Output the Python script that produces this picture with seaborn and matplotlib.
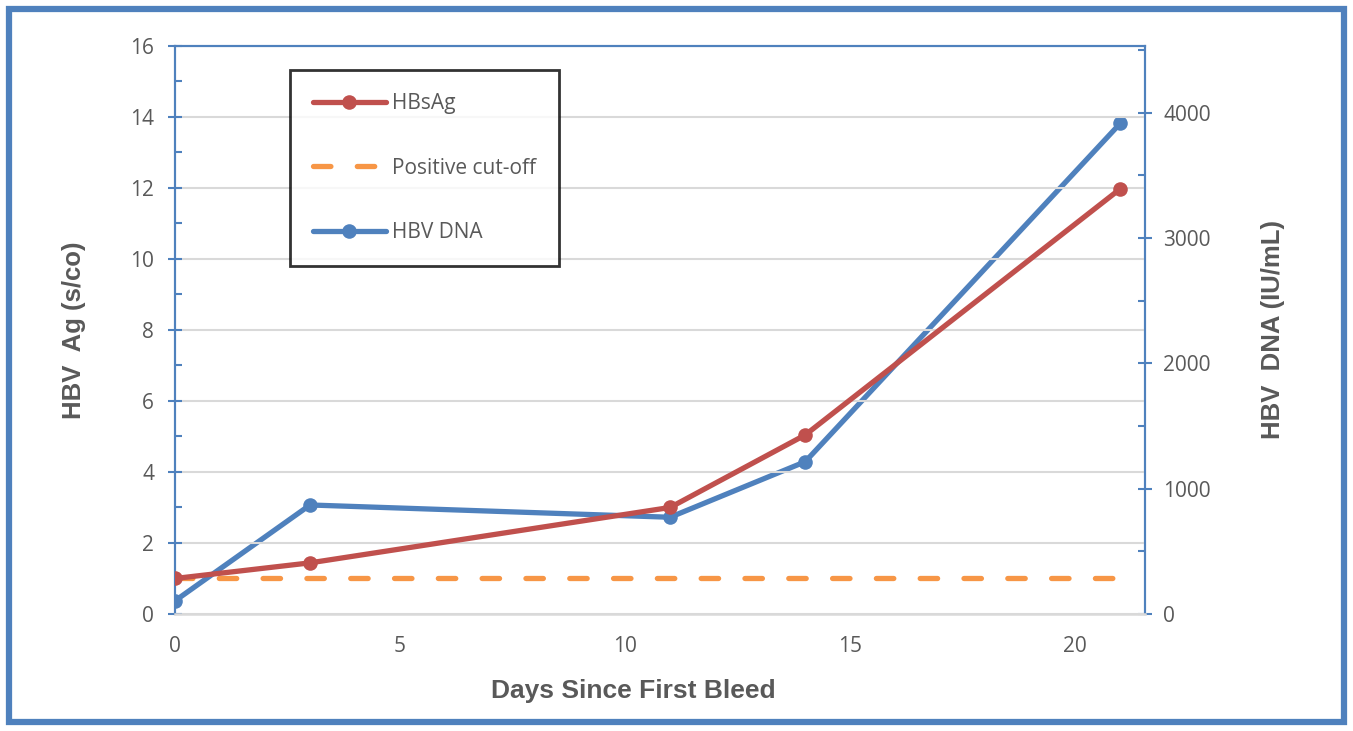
import seaborn as sns
import pandas as pd
import matplotlib.pyplot as plt
from matplotlib.lines import Line2D
from matplotlib.patches import Rectangle
from matplotlib.ticker import MultipleLocator

# data
days = [0, 3, 11, 14, 21]
hbsag = [1.0, 1.44, 3.0, 5.04, 11.97]
cutoff = [1, 1, 1, 1, 1]
hbv_dna = [105, 870, 772, 1215, 3915]

red = '#C0504D'
orange = '#F79646'
blue = '#4F81BD'
txt = '#595959'
gridc = '#D9D9D9'

sns.set_style("white")
plt.rcParams['font.family'] = ['Open Sans', 'DejaVu Sans']

df = pd.DataFrame({'days': days, 'hbsag': hbsag, 'cutoff': cutoff, 'dna': hbv_dna})

fig = plt.figure(figsize=(13.53, 7.31), dpi=100)
ax = fig.add_axes([175/1353, 117/731, 970/1353, 568.3/731])
ax2 = ax.twinx()

lw = 3.8
ms = 10.5
sns.lineplot(data=df, x='days', y='cutoff', ax=ax, color=orange, linewidth=lw,
             dashes=False, zorder=3)
ax.lines[-1].set_dashes((3.3, 5.0))
ax.lines[-1].set_dash_capstyle('round')
sns.lineplot(data=df, x='days', y='hbsag', ax=ax, color=red, linewidth=lw,
             marker='o', markersize=ms, markeredgewidth=0, zorder=4)
sns.lineplot(data=df, x='days', y='dna', ax=ax2, color=blue, linewidth=lw,
             marker='o', markersize=ms, markeredgewidth=0, zorder=4)
for l in ax.lines + ax2.lines:
    l.set_solid_capstyle('round')
    l.set_solid_joinstyle('round')

ax.set_xlim(0, 21.55)
ax.set_ylim(0, 16)
ax2.set_ylim(0, 4535)
ax.set_zorder(ax2.get_zorder() + 1)
ax.patch.set_visible(False)

ax.xaxis.set_major_locator(MultipleLocator(5))
ax.xaxis.set_minor_locator(MultipleLocator(1))
ax.yaxis.set_major_locator(MultipleLocator(2))
ax.yaxis.set_minor_locator(MultipleLocator(1))
ax2.yaxis.set_major_locator(MultipleLocator(1000))
ax2.yaxis.set_minor_locator(MultipleLocator(500))

ax.grid(axis='y', which='major', color=gridc, linewidth=1.5)
ax.set_axisbelow(True)

for s in ['left', 'right', 'top']:
    ax.spines[s].set_color(blue)
    ax.spines[s].set_linewidth(1.5)
    ax2.spines[s].set_color(blue)
    ax2.spines[s].set_linewidth(1.5)
ax.spines['bottom'].set_color(gridc)
ax.spines['bottom'].set_linewidth(1.8)
ax2.spines['bottom'].set_visible(False)

ax.tick_params(axis='y', which='major', direction='inout', length=10, width=1.5,
               color=blue, labelsize=15, labelcolor=txt, pad=10)
ax.tick_params(axis='y', which='minor', direction='in', length=5, width=1.5, color=blue)
ax2.tick_params(axis='y', which='major', direction='inout', length=10, width=1.5,
                color=blue, labelsize=15, labelcolor=txt, pad=8)
ax2.tick_params(axis='y', which='minor', direction='in', length=5, width=1.5, color=blue)
ax.tick_params(axis='x', which='major', direction='inout', length=10, width=1.5,
               color=gridc, labelsize=15, labelcolor=txt, pad=11)
ax.tick_params(axis='x', which='minor', direction='in', length=5, width=1.5, color=gridc)

ax.set_xlabel('Days Since First Bleed', family='Liberation Sans', fontweight='bold',
              fontsize=19, color=txt)
ax.xaxis.set_label_coords(0.472, -0.115)
ax.set_ylabel('HBV  Ag (s/co)', family='Liberation Sans', fontweight='bold',
              fontsize=18.5, color=txt, labelpad=32)
ax2.set_ylabel('HBV  DNA (IU/mL)', family='Liberation Sans', fontweight='bold',
               fontsize=18.5, color=txt, labelpad=36, rotation=90)

handles = [
    Line2D([], [], color=red, linewidth=lw, marker='o', markersize=ms,
           markeredgewidth=0, solid_capstyle='round'),
    Line2D([], [], color=orange, linewidth=lw, dashes=(3.3, 5.0),
           dash_capstyle='round'),
    Line2D([], [], color=blue, linewidth=lw, marker='o', markersize=ms,
           markeredgewidth=0, solid_capstyle='round'),
]
leg = ax.legend(handles, ['HBsAg', 'Positive cut-off', 'HBV DNA'],
                loc='upper left', bbox_to_anchor=(290/1353, 661/731),
                bbox_transform=fig.transFigure, frameon=True, fancybox=False,
                fontsize=15, labelcolor=txt, handlelength=3.5, handletextpad=0.3,
                labelspacing=2.1, borderpad=1.1, borderaxespad=0)
leg.get_frame().set_edgecolor('black')
leg.get_frame().set_linewidth(2)

fig.patches.append(Rectangle((9/1353, 9/731), 1335/1353, 713/731,
                             transform=fig.transFigure, fill=False,
                             edgecolor=blue, linewidth=4.5))

fig.savefig('out.png', dpi=100)
